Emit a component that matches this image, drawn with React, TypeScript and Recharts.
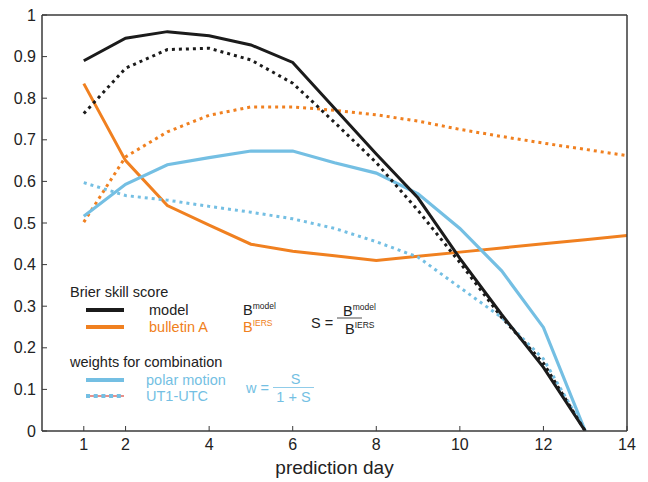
import React from "react";
import { LineChart, Line, XAxis, YAxis, Label } from "recharts";

const days = [1, 2, 3, 4, 5, 6, 7, 8, 9, 10, 11, 12, 13, 14];
const modelSolid = [0.89, 0.944, 0.96, 0.95, 0.928, 0.886, 0.776, 0.666, 0.56, 0.415, 0.28, 0.153, 0.0, null];
const modelDotted = [0.763, 0.872, 0.917, 0.92, 0.892, 0.836, 0.742, 0.645, 0.53, 0.405, 0.273, 0.163, 0.0, null];
const bulletinSolid = [0.835, 0.65, 0.542, 0.495, 0.449, 0.432, 0.421, 0.41, 0.42, 0.43, 0.44, 0.45, 0.46, 0.47];
const bulletinDotted = [0.502, 0.659, 0.719, 0.759, 0.779, 0.779, 0.771, 0.76, 0.745, 0.725, 0.708, 0.692, 0.677, 0.662];
const polarSolid = [0.516, 0.593, 0.64, 0.657, 0.673, 0.673, 0.645, 0.62, 0.57, 0.487, 0.385, 0.249, 0.0, null];
const ut1Dotted = [0.597, 0.566, 0.555, 0.54, 0.526, 0.51, 0.487, 0.455, 0.418, 0.345, 0.273, 0.173, 0.0, null];

const xTicks = [1, 2, 4, 6, 8, 10, 12, 14];
const xTopTicks = [2, 4, 6, 8, 10, 12];
const yTicks = [0, 0.1, 0.2, 0.3, 0.4, 0.5, 0.6, 0.7, 0.8, 0.9, 1];
const yRightTicks = [0.1, 0.2, 0.3, 0.4, 0.5, 0.6, 0.7, 0.8, 0.9];

const data = days.map((d, i) => ({
  day: d,
  modelSolid: modelSolid[i],
  modelDotted: modelDotted[i],
  bulletinSolid: bulletinSolid[i],
  bulletinDotted: bulletinDotted[i],
  polarSolid: polarSolid[i],
  ut1Dotted: ut1Dotted[i],
}));

const BLACK = "#1b1b1b";
const ORANGE = "#f08020";
const BLUE = "#74bfe3";
const SALMON = "#e8918a";
const AXIS = "#3a3a3a";
const FONT = "'Liberation Sans', Arial, Helvetica, sans-serif";

const fmtY = (v: number) => (v === 0 ? "0" : v === 1 ? "1" : v.toFixed(1));

function LegendOverlay() {
  const fs = 14.5;
  const sup = 8.5;
  return (
    <svg
      width={648}
      height={482}
      style={{ position: "absolute", left: 0, top: 0, pointerEvents: "none" }}
      fontFamily={FONT}
    >
      <text x={70} y={297} fontSize={fs} fill="#222">Brier skill score</text>
      <line x1={86} x2={124} y1={310} y2={310} stroke={BLACK} strokeWidth={4} />
      <text x={149} y={315} fontSize={fs} fill="#222">model</text>
      <line x1={86} x2={124} y1={327} y2={327} stroke={ORANGE} strokeWidth={4} />
      <text x={149} y={332} fontSize={fs} fill={ORANGE}>bulletin A</text>

      <text x={243} y={315} fontSize={fs} fill="#222">
        B<tspan fontSize={sup} dy={-6}>model</tspan>
      </text>
      <text x={243} y={332} fontSize={fs} fill={ORANGE}>
        B<tspan fontSize={sup} dy={-6}>IERS</tspan>
      </text>

      <text x={311} y={328} fontSize={fs} fill="#222">S =</text>
      <text x={343} y={316} fontSize={fs} fill="#222">
        B<tspan fontSize={sup} dy={-6}>model</tspan>
      </text>
      <line x1={337} x2={362} y1={318} y2={318} stroke="#222" strokeWidth={0.8} />
      <text x={345} y={334} fontSize={fs} fill="#222">
        B<tspan fontSize={sup} dy={-6}>IERS</tspan>
      </text>

      <text x={70} y={367} fontSize={fs} fill="#222">weights for combination</text>
      <line x1={86} x2={124} y1={380} y2={380} stroke={BLUE} strokeWidth={4} />
      <text x={146} y={385} fontSize={fs} fill={BLUE}>polar motion</text>
      <line x1={86} x2={124} y1={396} y2={396} stroke={SALMON} strokeWidth={1.8} />
      <line x1={86} x2={124} y1={396} y2={396} stroke={BLUE} strokeWidth={4} strokeDasharray="4 3.7" />
      <text x={146} y={401} fontSize={fs} fill={BLUE}>UT1-UTC</text>

      <text x={246} y={393} fontSize={fs} fill={BLUE}>w =</text>
      <text x={295.5} y={384} fontSize={fs} fill={BLUE} textAnchor="middle">S</text>
      <line x1={273} x2={314} y1={387.5} y2={387.5} stroke={BLUE} strokeWidth={0.8} />
      <text x={293.5} y={402} fontSize={fs} fill={BLUE} textAnchor="middle">1 + S</text>
    </svg>
  );
}

export default function App() {
  return (
    <div style={{ position: "relative", width: 648, height: 482, background: "#fff" }}>
      <style>{"body{margin:0}"}</style>
      <LineChart
        width={648}
        height={482}
        data={data}
        margin={{ top: 0, right: 0, bottom: 0, left: 0 }}
        style={{ fontFamily: FONT }}
      >
        <XAxis
          dataKey="day"
          type="number"
          domain={[0, 14]}
          ticks={xTicks}
          interval={0}
          height={51}
          tickSize={-5}
          tickMargin={13}
          axisLine={{ stroke: AXIS, strokeWidth: 1.5 }}
          tickLine={{ stroke: AXIS, strokeWidth: 1 }}
          tick={{ fontSize: 16, fill: "#222" }}
          allowDataOverflow
        >
          <Label value="prediction day" position="insideBottom" offset={8} style={{ fontSize: 19, fill: "#222" }} />
        </XAxis>
        <XAxis
          xAxisId="top"
          orientation="top"
          dataKey="day"
          type="number"
          domain={[0, 14]}
          ticks={xTopTicks}
          interval={0}
          height={15}
          tickSize={-5}
          tick={false}
          axisLine={{ stroke: AXIS, strokeWidth: 1.5 }}
          tickLine={{ stroke: AXIS, strokeWidth: 1 }}
          allowDataOverflow
        />
        <YAxis
          type="number"
          domain={[0, 1]}
          ticks={yTicks}
          interval={0}
          width={42}
          tickSize={-5}
          tickMargin={11}
          tickFormatter={fmtY}
          axisLine={{ stroke: AXIS, strokeWidth: 1.5 }}
          tickLine={{ stroke: AXIS, strokeWidth: 1 }}
          tick={{ fontSize: 16, fill: "#222" }}
          allowDataOverflow
        />
        <YAxis
          yAxisId="right"
          orientation="right"
          type="number"
          domain={[0, 1]}
          ticks={yRightTicks}
          interval={0}
          width={21}
          tickSize={-5}
          tick={false}
          axisLine={{ stroke: AXIS, strokeWidth: 1.5 }}
          tickLine={{ stroke: AXIS, strokeWidth: 1 }}
          allowDataOverflow
        />
        <Line dataKey="bulletinDotted" stroke={ORANGE} strokeWidth={3} strokeDasharray="3 4" dot={false} isAnimationActive={false} />
        <Line dataKey="bulletinSolid" stroke={ORANGE} strokeWidth={3} dot={false} isAnimationActive={false} />
        <Line dataKey="ut1Dotted" stroke={BLUE} strokeWidth={3} strokeDasharray="3 4" dot={false} isAnimationActive={false} />
        <Line dataKey="polarSolid" stroke={BLUE} strokeWidth={3.2} dot={false} isAnimationActive={false} />
        <Line dataKey="modelDotted" stroke={BLACK} strokeWidth={3} strokeDasharray="3 4" dot={false} isAnimationActive={false} />
        <Line dataKey="modelSolid" stroke={BLACK} strokeWidth={3} dot={false} isAnimationActive={false} />
      </LineChart>
      <LegendOverlay />
    </div>
  );
}
